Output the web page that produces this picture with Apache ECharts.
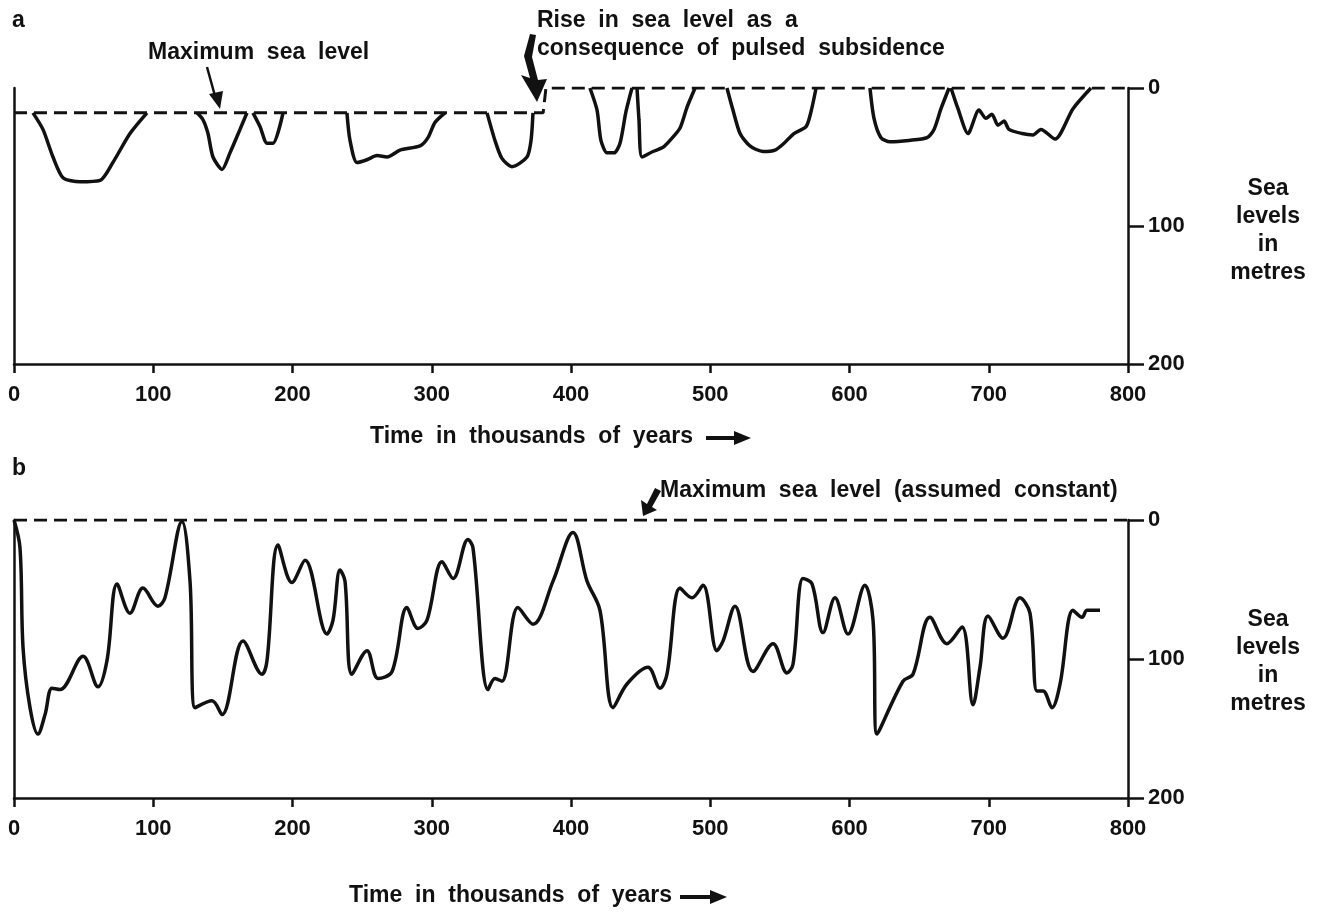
<!DOCTYPE html>
<html>
<head>
<meta charset="utf-8">
<script src="https://cdn.jsdelivr.net/npm/echarts@6/dist/echarts.min.js"></script>
<style>
  html,body{margin:0;padding:0;background:#fff;}
  #main{width:1318px;height:912px;}
</style>
</head>
<body>
<div id="main"></div>
<script>
// panel a: sea level below present (m), dips separated by null
var timeA=[13.6,20.8,28,35.2,47.4,61.8,71,83.3,95.5,null,
  131.4,135.7,139.3,142.9,149.4,155.1,162.3,167.3,null,
  171.6,176.7,181.7,186,193.2,null,
  239.1,241.3,246.3,253.5,260.7,267.9,277.2,291.6,297.3,302.3,309.5,null,
  339.7,345.4,350.4,357.6,368.4,371.3,372.7,null,
  413.6,418.7,421.5,425.9,430.9,435.2,439.5,443.8,null,
  447.4,448.8,451,458.9,466.1,471.1,478.3,483.3,489.1,null,
  512,516.3,521.4,528.5,537.9,546.5,553,560.1,568.8,572.4,576,null,
  614.7,617.6,622.6,629.1,642.7,655.7,660.7,665.7,671.5,null,
  672.9,677.9,685.1,693,698,702.3,706.6,711,714.5,723.9,731.8,737.5,747.6,760.5,773.4];
var levelA=[18,30,50,65,68,67,54,33,18,null,
  18,23,33,50,59,47,30,18,null,
  18,28,40,40,18,null,
  18,38,54,52,49,50,45,42,36,25,18,null,
  18,38,51,57,50,38,18,null,
  0,16,38,47,47,40,17,0,null,
  0,23,50,46,43,38,29,14,0,null,
  0,16,33,42,46,45,40,33,28,17,0,null,
  0,22,36,39,38,36,30,15,0,null,
  0,15,33,16,22,19,27,24,30,33,34,30,37,15,0];
// maximum sea level in panel a (pulsed subsidence step)
var maxTimeA=[0,380,382,800];
var maxLevelA=[18,18,0,0];

// panel b
var timeB=[0,4.3,6.5,11.5,17.2,22.3,27.3,33,49.6,60.3,66.8,74,83.3,92.6,103.4,108.4,120.6,
  126.4,130,142.2,149.4,164.5,178.1,181.7,189.6,199.6,209,224.8,229.1,234.1,237.7,242.7,
  253.5,261.4,271.5,282.2,290.1,296.6,307.4,315.3,326,329.6,340.4,345.4,350.4,361.9,372.7,
  387.1,401.4,411.5,420.8,430.2,440.2,455.3,463.9,468.9,478.3,486.9,494.8,504.8,509.2,
  517.8,530.7,545.1,555.1,559.4,566.6,573.1,581,589.6,598.9,611.1,616.9,619.7,638.4,645.6,
  657.8,670,680.8,688.7,693.7,699.5,710.2,722.4,729.6,734.6,739,745.4,751.2,760.5,767,770.6,779.9];
var levelB=[0,20,92,135,154,140,121,122,98,120,101,46,67,49,62,56,1,
  44,135,130,140,87,111,101,18,45,29,82,72,36,44,111,
  94,114,109,63,78,72,30,42,14,20,122,114,116,63,75,
  44,9,44,65,135,118,106,121,111,49,56,47,94,87,
  62,109,89,110,104,42,46,81,56,82,47,72,154,116,111,
  70,89,77,133,106,69,85,56,67,123,123,135,118,65,70,65,65];
var maxTimeB=[0,800];
var maxLevelB=[0,0];

var xTicks=[0,800,100];   // min, max, interval
var yTicks=[0,200,100];

function pairs(xs,ys){
  return xs.map(function(x,i){ return (x===null||ys[i]===null)?['-','-']:[x,ys[i]]; });
}

var FONT='"Liberation Sans", Arial, sans-serif';
var black='#111';

function xAx(g){
  return {gridIndex:g,type:'value',min:xTicks[0],max:xTicks[1],interval:xTicks[2],
    axisLine:{onZero:false,lineStyle:{color:black,width:2.5}},
    axisTick:{length:9,lineStyle:{color:black,width:2.5}},
    axisLabel:{color:black,fontSize:22,fontWeight:'bold',fontFamily:FONT,margin:20},
    splitLine:{show:false}};
}
function yAxRight(g){
  return {gridIndex:g,type:'value',position:'right',inverse:true,min:yTicks[0],max:yTicks[1],interval:yTicks[2],
    axisLine:{show:true,onZero:false,lineStyle:{color:black,width:2.5}},
    axisTick:{show:true,length:16,lineStyle:{color:black,width:2.5}},
    axisLabel:{color:black,fontSize:22,fontWeight:'bold',fontFamily:FONT,margin:20},
    splitLine:{show:false}};
}
function yAxLeft(g){
  return {gridIndex:g,type:'value',position:'left',inverse:true,min:yTicks[0],max:yTicks[1],
    axisLine:{show:true,onZero:false,lineStyle:{color:black,width:2.5}},
    axisTick:{show:false},axisLabel:{show:false},splitLine:{show:false}};
}
function txt(s,x,y,extra){
  var st={text:s,x:x,y:y,fill:black,font:'bold 23px '+FONT,textVerticalAlign:'middle'};
  for(var k in extra){st[k]=extra[k];}
  return {type:'text',style:st,z:10};
}

var myChart=echarts.init(document.getElementById('main'));
var option={
  animation:false,
  backgroundColor:'#fff',
  grid:[
    {left:14,right:190,top:88,height:276},
    {left:14,right:190,top:520,height:278}
  ],
  xAxis:[xAx(0),xAx(1)],
  yAxis:[yAxRight(0),yAxLeft(0),yAxRight(1),yAxLeft(1)],
  series:[
    {type:'line',xAxisIndex:0,yAxisIndex:0,data:pairs(maxTimeA,maxLevelA),showSymbol:false,
      lineStyle:{color:black,width:3,type:[13,7]}},
    {type:'line',xAxisIndex:0,yAxisIndex:0,data:pairs(timeA,levelA),showSymbol:false,smooth:0.25,
      connectNulls:false,lineStyle:{color:black,width:3.5}},
    {type:'line',xAxisIndex:1,yAxisIndex:2,data:pairs(maxTimeB,maxLevelB),showSymbol:false,
      lineStyle:{color:black,width:3,type:[13,7]}},
    {type:'line',xAxisIndex:1,yAxisIndex:2,data:pairs(timeB,levelB),showSymbol:false,smooth:0.35,
      lineStyle:{color:black,width:3.5}}
  ],
  graphic:[
    txt('a',12,21),
    txt('Maximum  sea  level',148,53),
    {type:'line',shape:{x1:207,y1:67,x2:215,y2:96},style:{stroke:black,lineWidth:2.5}},
    {type:'polygon',shape:{points:[[220,109],[209,94],[223,91]]},style:{fill:black}},
    txt('Rise  in  sea  level  as  a',537,21),
    txt('consequence  of  pulsed  subsidence',537,49),
    {type:'polygon',shape:{points:[[530,34],[524,56],[530,78],[521,75],[537,102],[547,79],[538,80],[532,57],[536,35]]},style:{fill:black}},
    txt('Time  in  thousands  of  years',370,437),
    {type:'line',shape:{x1:706,y1:438,x2:736,y2:438},style:{stroke:black,lineWidth:4}},
    {type:'polygon',shape:{points:[[751,438],[734,431],[734,445]]},style:{fill:black}},
    txt('Sea\nlevels\nin\nmetres',1268,231,{textAlign:'center',lineHeight:28}),
    txt('b',12,469),
    txt('Maximum  sea  level  (assumed  constant)',660,491),
    {type:'polygon',shape:{points:[[643,516],[641,500],[647,504],[655,488],[661,491],[652,507],[657,510]]},style:{fill:black}},
    txt('Time  in  thousands  of  years',349,896),
    {type:'line',shape:{x1:680,y1:897,x2:711,y2:897},style:{stroke:black,lineWidth:4}},
    {type:'polygon',shape:{points:[[727,897],[710,890],[710,904]]},style:{fill:black}},
    txt('Sea\nlevels\nin\nmetres',1268,662,{textAlign:'center',lineHeight:28})
  ]
};
myChart.setOption(option);
</script>
</body>
</html>
